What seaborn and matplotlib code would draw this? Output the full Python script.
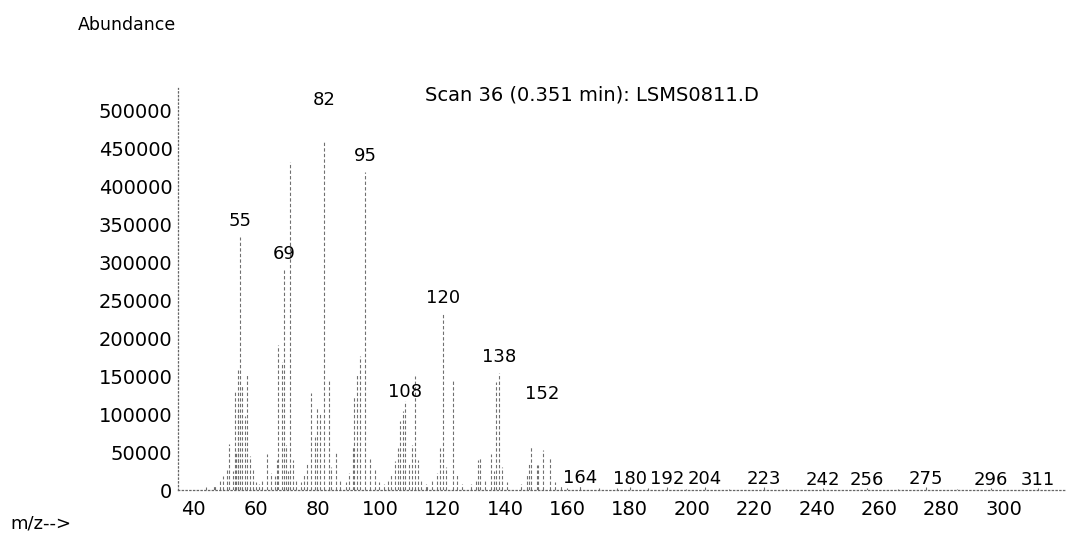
import matplotlib.pyplot as plt
import seaborn as sns
import pandas as pd

# m/z of each stick and its abundance
mz = [44.0, 46.5, 47.0, 48.5, 49.5, 50.7, 51.4, 52.5, 53.4, 53.6, 54.1, 54.4, 55.0, 55.4,
      56.5, 57.3, 58.0, 59.0, 60.0, 61.0, 62.0, 63.6, 64.9, 66.2, 66.8,
      67.2, 68.4, 69.0, 69.8, 70.4, 71.1, 72.0, 73.0,
      74.5, 75.5, 76.5, 77.6, 78.9, 79.6, 80.7, 82.0, 83.4, 84.2, 85.8, 87.0,
      89.0, 90.0, 91.2, 91.6, 92.4, 93.3, 95.0, 96.5, 98.1, 99.5, 101.0,
      102.5, 103.5, 104.7, 105.6, 106.3, 107.3, 108.0, 109.0, 110.0, 111.0, 112.0, 113.0, 114.5,
      115.0, 116.5, 118.0, 119.0, 120.0, 121.0, 123.3, 124.5, 126.0,
      129.0, 130.5, 131.2, 132.0, 133.5, 135.3, 136.4, 137.1, 138.0, 139.0, 140.5,
      145.0, 147.1, 147.6, 148.3, 150.2, 150.7, 152.0, 154.5, 156.0, 158.0,
      160.0, 164.0, 170.0, 176.0, 180.0, 186.0, 192.0, 198.0, 204.0, 212.0,
      223.0, 230.0, 242.0, 256.0, 266.0, 275.0, 285.0, 296.0, 311.0]
abundance = [4000, 6000, 5000, 12000, 18000, 26000, 61000, 25000, 132000, 51000, 106000, 158000, 334000, 137000,
             98000, 152000, 45000, 28000, 10000, 8000, 15000, 47000, 22000, 18000, 40000,
             191000, 169000, 290000, 60000, 25000, 433000, 40000, 14000,
             10000, 20000, 35000, 128000, 70000, 109000, 101000, 461000, 145000, 30000, 49000, 12000,
             10000, 22000, 57000, 124000, 153000, 177000, 419000, 41000, 28000, 10000, 8000,
             12000, 21000, 38000, 55000, 91000, 104000, 118000, 35000, 60000, 151000, 40000, 15000, 8000,
             6000, 15000, 22000, 55000, 232000, 30000, 146000, 20000, 8000,
             8000, 15000, 40000, 43000, 12000, 47000, 25000, 142000, 155000, 30000, 10000,
             8000, 20000, 36000, 58000, 33000, 33000, 53000, 42000, 10000, 5000,
             3000, 5000, 2000, 2500, 4500, 2000, 4000, 1500, 4000, 1500,
             4000, 1500, 3000, 3000, 1500, 3500, 1500, 3000, 2500]

peak_labels = [55, 69, 82, 95, 108, 120, 138, 152, 164, 180, 192, 204, 223, 242, 256, 275, 296, 311]
x_ticks = list(range(40, 301, 20))
y_ticks = list(range(0, 500001, 50000))

df = pd.DataFrame({'mz': mz, 'abundance': abundance})

sns.set_theme(style='white')
plt.rcParams['font.family'] = ['DejaVu Sans']
plt.rcParams['text.color'] = 'black'

fig = plt.figure(figsize=(10.75, 5.35), dpi=100)
ax = fig.add_axes([0.1656, 0.0841, 0.826, 0.751])

ax.vlines(df['mz'], 0, df['abundance'], colors='#707070', linewidth=0.8, linestyles=(0, (3, 2)))

ax.set_xlim(35, 320)
ax.set_ylim(0, 530000)
ax.set_xticks(x_ticks)
ax.set_yticks(y_ticks)
ax.set_xticklabels([str(t) for t in x_ticks])
ax.set_yticklabels([str(t) for t in y_ticks])
ax.tick_params(axis='x', length=0, pad=7, labelsize=14, colors='black')
ax.tick_params(axis='y', length=0, pad=4, labelsize=14, colors='black')
ax.set_xlabel('')
ax.set_ylabel('')

for side in ['top', 'right']:
    ax.spines[side].set_visible(False)
for side in ['left', 'bottom']:
    ax.spines[side].set_linestyle((0, (1, 2)))
    ax.spines[side].set_color('#666666')
    ax.spines[side].set_linewidth(0.9)

# gap (px) between stick top and label baseline
gap_px = {82: 36, 152: 51, 108: 4}
heights = dict(zip(df['mz'], df['abundance']))
for lab in peak_labels:
    gap = gap_px.get(lab, 11 if lab < 160 else 3)
    ax.annotate(str(lab), (lab, heights[float(lab)]), xytext=(0, gap * 0.72),
                textcoords='offset points', ha='center', va='baseline', fontsize=13, color='black')

ax.text(0.278, 0.983, 'Scan 36 (0.351 min): LSMS0811.D', transform=ax.transAxes,
        ha='left', va='center', fontsize=14, color='black')
fig.text(0.0726, 0.953, 'Abundance', ha='left', va='center', fontsize=12.5, color='black')
fig.text(0.0093, 0.022, 'm/z-->', ha='left', va='center', fontsize=13, color='black')

fig.savefig('out.png', dpi=100, facecolor='white')
